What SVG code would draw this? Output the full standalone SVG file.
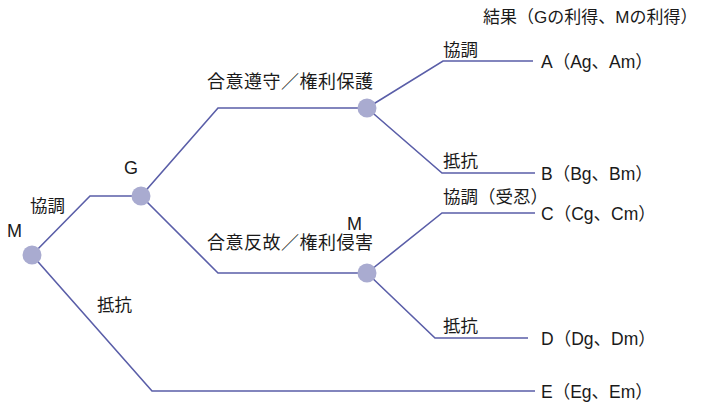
<svg xmlns="http://www.w3.org/2000/svg" width="701" height="402" viewBox="0 0 701 402">
<style>
.ln{fill:none;stroke:#5a5ea8;stroke-width:1.6}
.nd{fill:#a9abd0}
text{font-family:"Liberation Sans","Noto Sans CJK JP",sans-serif;fill:#1a1a1a;font-size:17.5px}
.h{font-size:17px}
.m{font-size:18px}
</style>
<rect width="701" height="402" fill="#fff"/>
<g id="connectors">
<polyline class="ln" points="32,255 90,196 141,196"/>
<polyline class="ln" points="32,255 152,391 535,391"/>
<polyline class="ln" points="141,196 218,108 367,108"/>
<polyline class="ln" points="141,196 218,273 367,273"/>
<polyline class="ln" points="367,108 443,61 533,61"/>
<polyline class="ln" points="367,108 442,173 535,173"/>
<polyline class="ln" points="367,273 442,213 535,213"/>
<polyline class="ln" points="367,273 435,338 528,338"/>
<text x="30" y="212">協調</text>
<text x="97" y="311">抵抗</text>
<text class="m" x="207" y="88" textLength="166">合意遵守／権利保護</text>
<text class="m" x="207" y="249" textLength="166">合意反故／権利侵害</text>
<text x="443" y="56">協調</text>
<text x="443" y="167">抵抗</text>
<text x="443" y="203">協調（受忍）</text>
<text x="443" y="332">抵抗</text>
</g>
<g id="node-M"><circle class="nd" cx="32" cy="255" r="9.5"/><text class="m" x="7" y="237">M</text></g>
<g id="node-G"><circle class="nd" cx="141" cy="196" r="9.5"/><text class="m" x="124" y="174">G</text></g>
<g id="node-G1"><circle class="nd" cx="367" cy="108" r="9.5"/></g>
<g id="node-M2"><circle class="nd" cx="367" cy="273" r="9.5"/><text class="m" x="347" y="230">M</text></g>
<g id="results">
<text class="h" x="483" y="23">結果（Gの利得、Mの利得）</text>
<text x="541" y="68">A（Ag、Am）</text>
<text x="541" y="180">B（Bg、Bm）</text>
<text x="541" y="220">C（Cg、Cm）</text>
<text x="541" y="345">D（Dg、Dm）</text>
<text x="541" y="398">E（Eg、Em）</text>
</g>
</svg>
